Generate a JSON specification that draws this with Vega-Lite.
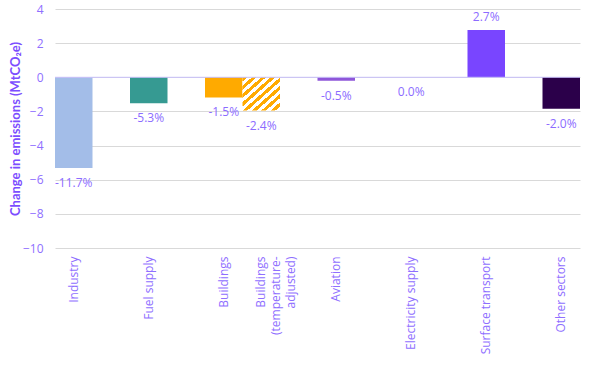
{
  "$schema": "https://vega.github.io/schema/vega-lite/v6.json",
  "width": 525,
  "height": 239,
  "autosize": "none",
  "padding": {"left": 55, "top": 9, "right": 22, "bottom": 117},
  "background": "white",
  "config": {"view": {"stroke": null}, "font": "Open Sans"},
  "data": {
    "values": [
      {"sector": "Industry", "value": -5.32, "label": "-11.7%"},
      {"sector": "Fuel supply", "value": -1.52, "label": "-5.3%"},
      {"sector": "Buildings", "value": -1.18, "label": "-1.5%"},
      {"sector": "Buildings (temperature-adjusted)", "value": -1.95, "label": "-2.4%"},
      {"sector": "Aviation", "value": -0.2, "label": "-0.5%"},
      {"sector": "Electricity supply", "value": 0.0, "label": "0.0%"},
      {"sector": "Surface transport", "value": 2.77, "label": "2.7%"},
      {"sector": "Other sectors", "value": -1.85, "label": "-2.0%"}
    ]
  },
  "encoding": {
    "y": {
      "field": "value", "type": "quantitative",
      "scale": {"domain": [-10, 4], "nice": false, "zero": false},
      "axis": {
        "values": [-10, -8, -6, -4, -2, 0, 2, 4],
        "tickCount": 8,
        "title": "Change in emissions (MtCO₂e)",
        "titleFont": "Lato", "titleFontSize": 13, "titleFontWeight": "bold", "titleColor": "#7C4DFF", "titlePadding": 0,
        "labelFontSize": 12, "labelColor": "#8F6FFF", "labelPadding": 12, "labelOverlap": false, "labelFlush": false,
        "domain": false, "ticks": false, "gridColor": "#D9D9D9", "gridWidth": 1
      }
    }
  },
  "layer": [
    {
      "transform": [{"filter": "datum.sector != 'Buildings (temperature-adjusted)'"}],
      "mark": {"type": "bar"},
      "encoding": {
        "x": {
          "field": "sector", "type": "nominal", "sort": null,
          "scale": {"domain": ["Industry", "~1", "Fuel supply", "~2", "Buildings", "Buildings (temperature-adjusted)", "~3", "Aviation", "~4", "Electricity supply", "~5", "Surface transport", "~6", "Other sectors"], "paddingInner": 0, "paddingOuter": 0},
          "axis": {
            "title": null, "ticks": false, "domain": false,
            "labelAngle": -90, "labelAlign": "right", "labelBaseline": "middle",
            "labelPadding": 8, "labelFontSize": 12, "labelLineHeight": 15,
            "labelColor": "#8F6FFF", "labelOverlap": false, "labelLimit": 0,
            "labelExpr": "substring(datum.value,0,1) == '~' ? '' : (datum.value == 'Buildings (temperature-adjusted)' ? ['Buildings', '(temperature-', 'adjusted)'] : datum.value)"
          }
        },
        "color": {
          "field": "sector", "type": "nominal", "legend": null,
          "scale": {
            "domain": ["Industry", "Fuel supply", "Buildings", "Aviation", "Electricity supply", "Surface transport", "Other sectors"],
            "range": ["#A3BDE8", "#369A92", "#FFAA00", "#8E56D9", "#F2D28A", "#7945FF", "#2B004A"]
          }
        }
      }
    },
    {
      "transform": [{"filter": "datum.sector == 'Buildings (temperature-adjusted)'"}],
      "mark": {
        "type": "bar",
        "fill": {
          "gradient": "linear", "x1": 0, "y1": 0, "x2": 1, "y2": 1,
          "stops": [
            {"offset": 0, "color": "#FFAA00"}, {"offset": 0.0625, "color": "#FFAA00"},
            {"offset": 0.0625, "color": "#FFFFFF"}, {"offset": 0.125, "color": "#FFFFFF"},
            {"offset": 0.125, "color": "#FFAA00"}, {"offset": 0.1875, "color": "#FFAA00"},
            {"offset": 0.1875, "color": "#FFFFFF"}, {"offset": 0.25, "color": "#FFFFFF"},
            {"offset": 0.25, "color": "#FFAA00"}, {"offset": 0.3125, "color": "#FFAA00"},
            {"offset": 0.3125, "color": "#FFFFFF"}, {"offset": 0.375, "color": "#FFFFFF"},
            {"offset": 0.375, "color": "#FFAA00"}, {"offset": 0.4375, "color": "#FFAA00"},
            {"offset": 0.4375, "color": "#FFFFFF"}, {"offset": 0.5, "color": "#FFFFFF"},
            {"offset": 0.5, "color": "#FFAA00"}, {"offset": 0.5625, "color": "#FFAA00"},
            {"offset": 0.5625, "color": "#FFFFFF"}, {"offset": 0.625, "color": "#FFFFFF"},
            {"offset": 0.625, "color": "#FFAA00"}, {"offset": 0.6875, "color": "#FFAA00"},
            {"offset": 0.6875, "color": "#FFFFFF"}, {"offset": 0.75, "color": "#FFFFFF"},
            {"offset": 0.75, "color": "#FFAA00"}, {"offset": 0.8125, "color": "#FFAA00"},
            {"offset": 0.8125, "color": "#FFFFFF"}, {"offset": 0.875, "color": "#FFFFFF"},
            {"offset": 0.875, "color": "#FFAA00"}, {"offset": 0.9375, "color": "#FFAA00"},
            {"offset": 0.9375, "color": "#FFFFFF"}, {"offset": 1, "color": "#FFFFFF"}
          ]
        }
      },
      "encoding": {
        "x": {
          "field": "sector", "type": "nominal", "sort": null,
          "scale": {"domain": ["Industry", "~1", "Fuel supply", "~2", "Buildings", "Buildings (temperature-adjusted)", "~3", "Aviation", "~4", "Electricity supply", "~5", "Surface transport", "~6", "Other sectors"], "paddingInner": 0, "paddingOuter": 0}
        }
      }
    },
    {
      "data": {"values": [{"value": 0}]},
      "mark": {"type": "rule", "color": "#C9C0FA", "strokeWidth": 1},
      "encoding": {}
    },
    {
      "transform": [{"filter": "datum.value <= 0"}],
      "mark": {"type": "text", "baseline": "top", "dy": 10, "fontSize": 12, "color": "#8C6CFF"},
      "encoding": {
        "x": {
          "field": "sector", "type": "nominal", "sort": null,
          "scale": {"domain": ["Industry", "~1", "Fuel supply", "~2", "Buildings", "Buildings (temperature-adjusted)", "~3", "Aviation", "~4", "Electricity supply", "~5", "Surface transport", "~6", "Other sectors"], "paddingInner": 0, "paddingOuter": 0}
        },
        "text": {"field": "label", "type": "nominal"}
      }
    },
    {
      "transform": [{"filter": "datum.value > 0"}],
      "mark": {"type": "text", "baseline": "bottom", "dy": -6, "fontSize": 12, "color": "#8C6CFF"},
      "encoding": {
        "x": {
          "field": "sector", "type": "nominal", "sort": null,
          "scale": {"domain": ["Industry", "~1", "Fuel supply", "~2", "Buildings", "Buildings (temperature-adjusted)", "~3", "Aviation", "~4", "Electricity supply", "~5", "Surface transport", "~6", "Other sectors"], "paddingInner": 0, "paddingOuter": 0}
        },
        "text": {"field": "label", "type": "nominal"}
      }
    }
  ]
}
